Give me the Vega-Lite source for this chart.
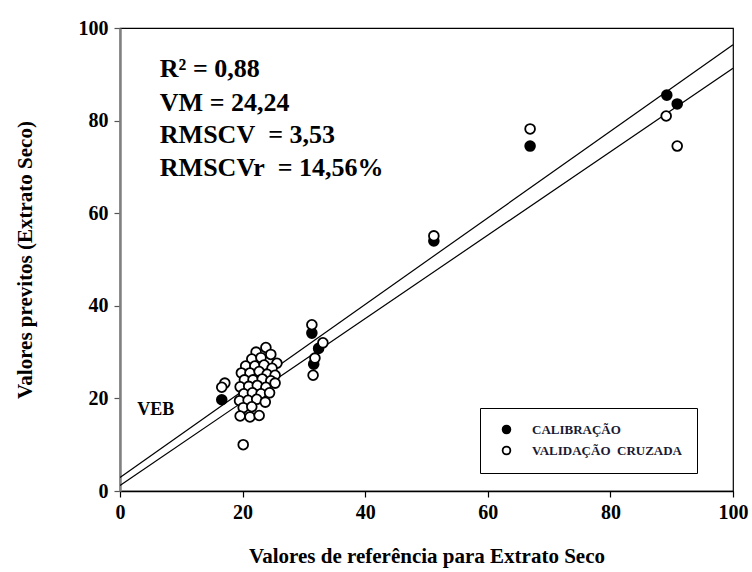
{
  "$schema": "https://vega.github.io/schema/vega-lite/v6.json",
  "width": 613,
  "height": 463,
  "autosize": "none",
  "padding": {"left": 120, "top": 28, "right": 19, "bottom": 81},
  "background": "white",
  "config": {
    "view": {"stroke": "black", "strokeWidth": 1.2},
    "font": "Liberation Serif"
  },
  "datasets": {
    "pts": [
      {"x": 16.6, "y": 19.7, "grupo": "CALIBRAÇÃO"},
      {"x": 21.5, "y": 22.0, "grupo": "CALIBRAÇÃO"},
      {"x": 22.8, "y": 24.5, "grupo": "CALIBRAÇÃO"},
      {"x": 23.5, "y": 26.0, "grupo": "CALIBRAÇÃO"},
      {"x": 20.5, "y": 18.5, "grupo": "CALIBRAÇÃO"},
      {"x": 24.5, "y": 24.0, "grupo": "CALIBRAÇÃO"},
      {"x": 22.0, "y": 20.5, "grupo": "CALIBRAÇÃO"},
      {"x": 31.3, "y": 34.1, "grupo": "CALIBRAÇÃO"},
      {"x": 32.4, "y": 30.8, "grupo": "CALIBRAÇÃO"},
      {"x": 31.6, "y": 27.4, "grupo": "CALIBRAÇÃO"},
      {"x": 51.2, "y": 54.0, "grupo": "CALIBRAÇÃO"},
      {"x": 66.9, "y": 74.5, "grupo": "CALIBRAÇÃO"},
      {"x": 89.2, "y": 85.5, "grupo": "CALIBRAÇÃO"},
      {"x": 90.9, "y": 83.6, "grupo": "CALIBRAÇÃO"},
      {"x": 23.8, "y": 31.0, "grupo": "VALIDAÇÃO\u00a0\u00a0CRUZADA"},
      {"x": 22.2, "y": 30.0, "grupo": "VALIDAÇÃO\u00a0\u00a0CRUZADA"},
      {"x": 21.5, "y": 28.5, "grupo": "VALIDAÇÃO\u00a0\u00a0CRUZADA"},
      {"x": 23.0, "y": 28.8, "grupo": "VALIDAÇÃO\u00a0\u00a0CRUZADA"},
      {"x": 24.6, "y": 29.5, "grupo": "VALIDAÇÃO\u00a0\u00a0CRUZADA"},
      {"x": 25.6, "y": 27.6, "grupo": "VALIDAÇÃO\u00a0\u00a0CRUZADA"},
      {"x": 20.5, "y": 27.0, "grupo": "VALIDAÇÃO\u00a0\u00a0CRUZADA"},
      {"x": 22.0, "y": 27.0, "grupo": "VALIDAÇÃO\u00a0\u00a0CRUZADA"},
      {"x": 23.5, "y": 27.2, "grupo": "VALIDAÇÃO\u00a0\u00a0CRUZADA"},
      {"x": 24.8, "y": 26.5, "grupo": "VALIDAÇÃO\u00a0\u00a0CRUZADA"},
      {"x": 19.8, "y": 25.5, "grupo": "VALIDAÇÃO\u00a0\u00a0CRUZADA"},
      {"x": 21.2, "y": 25.5, "grupo": "VALIDAÇÃO\u00a0\u00a0CRUZADA"},
      {"x": 22.7, "y": 25.8, "grupo": "VALIDAÇÃO\u00a0\u00a0CRUZADA"},
      {"x": 24.0, "y": 25.2, "grupo": "VALIDAÇÃO\u00a0\u00a0CRUZADA"},
      {"x": 25.3, "y": 25.0, "grupo": "VALIDAÇÃO\u00a0\u00a0CRUZADA"},
      {"x": 20.3, "y": 24.0, "grupo": "VALIDAÇÃO\u00a0\u00a0CRUZADA"},
      {"x": 21.7, "y": 24.0, "grupo": "VALIDAÇÃO\u00a0\u00a0CRUZADA"},
      {"x": 23.2, "y": 24.2, "grupo": "VALIDAÇÃO\u00a0\u00a0CRUZADA"},
      {"x": 24.6, "y": 23.8, "grupo": "VALIDAÇÃO\u00a0\u00a0CRUZADA"},
      {"x": 19.6, "y": 22.5, "grupo": "VALIDAÇÃO\u00a0\u00a0CRUZADA"},
      {"x": 21.0, "y": 22.6, "grupo": "VALIDAÇÃO\u00a0\u00a0CRUZADA"},
      {"x": 22.4, "y": 22.8, "grupo": "VALIDAÇÃO\u00a0\u00a0CRUZADA"},
      {"x": 23.8, "y": 22.4, "grupo": "VALIDAÇÃO\u00a0\u00a0CRUZADA"},
      {"x": 25.3, "y": 23.3, "grupo": "VALIDAÇÃO\u00a0\u00a0CRUZADA"},
      {"x": 20.2, "y": 21.0, "grupo": "VALIDAÇÃO\u00a0\u00a0CRUZADA"},
      {"x": 21.6, "y": 21.2, "grupo": "VALIDAÇÃO\u00a0\u00a0CRUZADA"},
      {"x": 23.0, "y": 21.0, "grupo": "VALIDAÇÃO\u00a0\u00a0CRUZADA"},
      {"x": 24.4, "y": 21.2, "grupo": "VALIDAÇÃO\u00a0\u00a0CRUZADA"},
      {"x": 19.5, "y": 19.5, "grupo": "VALIDAÇÃO\u00a0\u00a0CRUZADA"},
      {"x": 20.9, "y": 19.6, "grupo": "VALIDAÇÃO\u00a0\u00a0CRUZADA"},
      {"x": 22.3, "y": 19.8, "grupo": "VALIDAÇÃO\u00a0\u00a0CRUZADA"},
      {"x": 23.7, "y": 19.2, "grupo": "VALIDAÇÃO\u00a0\u00a0CRUZADA"},
      {"x": 20.1, "y": 18.0, "grupo": "VALIDAÇÃO\u00a0\u00a0CRUZADA"},
      {"x": 21.5, "y": 18.2, "grupo": "VALIDAÇÃO\u00a0\u00a0CRUZADA"},
      {"x": 19.6, "y": 16.2, "grupo": "VALIDAÇÃO\u00a0\u00a0CRUZADA"},
      {"x": 21.2, "y": 16.0, "grupo": "VALIDAÇÃO\u00a0\u00a0CRUZADA"},
      {"x": 22.7, "y": 16.3, "grupo": "VALIDAÇÃO\u00a0\u00a0CRUZADA"},
      {"x": 17.1, "y": 23.3, "grupo": "VALIDAÇÃO\u00a0\u00a0CRUZADA"},
      {"x": 16.6, "y": 22.4, "grupo": "VALIDAÇÃO\u00a0\u00a0CRUZADA"},
      {"x": 20.1, "y": 10.0, "grupo": "VALIDAÇÃO\u00a0\u00a0CRUZADA"},
      {"x": 31.3, "y": 35.9, "grupo": "VALIDAÇÃO\u00a0\u00a0CRUZADA"},
      {"x": 33.1, "y": 32.0, "grupo": "VALIDAÇÃO\u00a0\u00a0CRUZADA"},
      {"x": 31.8, "y": 28.7, "grupo": "VALIDAÇÃO\u00a0\u00a0CRUZADA"},
      {"x": 31.5, "y": 25.0, "grupo": "VALIDAÇÃO\u00a0\u00a0CRUZADA"},
      {"x": 51.2, "y": 55.1, "grupo": "VALIDAÇÃO\u00a0\u00a0CRUZADA"},
      {"x": 66.9, "y": 78.2, "grupo": "VALIDAÇÃO\u00a0\u00a0CRUZADA"},
      {"x": 89.1, "y": 81.0, "grupo": "VALIDAÇÃO\u00a0\u00a0CRUZADA"},
      {"x": 90.9, "y": 74.5, "grupo": "VALIDAÇÃO\u00a0\u00a0CRUZADA"}
    ],
    "linhas": [
      {"x": 0, "y": 2.9, "reta": "a"},
      {"x": 100, "y": 96.4, "reta": "a"},
      {"x": 0, "y": 1.2, "reta": "b"},
      {"x": 100, "y": 91.3, "reta": "b"}
    ],
    "textos": [
      {"x": 6.5, "y": 91.1, "t": "R² = 0,88"},
      {"x": 6.5, "y": 83.8, "t": "VM = 24,24"},
      {"x": 6.5, "y": 76.9, "t": "RMSCV\u00a0\u00a0= 3,53"},
      {"x": 6.5, "y": 69.8, "t": "RMSCVr\u00a0\u00a0= 14,56%"}
    ],
    "veb": [
      {"x": 2.8, "y": 17.5, "t": "VEB"}
    ]
  },
  "layer": [
    {
      "data": {"name": "linhas"},
      "mark": {"type": "line", "color": "black", "strokeWidth": 1.2, "clip": true},
      "encoding": {
        "x": {"field": "x", "type": "quantitative", "scale": {"domain": [0, 100], "nice": false},
          "axis": {
            "title": "Valores de referência para Extrato Seco",
            "values": [0, 20, 40, 60, 80, 100],
            "grid": false,
            "domainColor": "black", "domainWidth": 1.5,
            "tickColor": "black", "tickSize": 6, "tickWidth": 1.2,
            "labelFont": "Liberation Serif", "labelFontWeight": "bold", "labelFontSize": 20, "labelColor": "black",
            "labelPadding": 5, "labelFlush": false,
            "titleFont": "Liberation Serif", "titleFontWeight": "bold", "titleFontSize": 21, "titleColor": "black",
            "titlePadding": 23
          }},
        "y": {"field": "y", "type": "quantitative", "scale": {"domain": [0, 100], "nice": false},
          "axis": {
            "title": "Valores previtos (Extrato Seco)",
            "values": [0, 20, 40, 60, 80, 100],
            "grid": false,
            "domainColor": "#808080", "domainWidth": 2.5,
            "tickColor": "#555555", "tickSize": 6, "tickWidth": 1.2,
            "labelFont": "Liberation Serif", "labelFontWeight": "bold", "labelFontSize": 20, "labelColor": "black",
            "labelPadding": 6, "labelFlush": false,
            "titleFont": "Liberation Serif", "titleFontWeight": "bold", "titleFontSize": 21, "titleColor": "black",
            "titlePadding": 43
          }},
        "detail": {"field": "reta"}
      }
    },
    {
      "data": {"name": "pts"},
      "mark": {"type": "point", "shape": "circle", "filled": true, "size": 95, "stroke": "black", "strokeWidth": 1.8, "opacity": 1},
      "encoding": {
        "x": {"field": "x", "type": "quantitative"},
        "y": {"field": "y", "type": "quantitative"},
        "fill": {"field": "grupo", "type": "nominal",
          "scale": {"domain": ["CALIBRAÇÃO", "VALIDAÇÃO\u00a0\u00a0CRUZADA"], "range": ["black", "white"]},
          "legend": {
            "title": null,
            "orient": "none",
            "legendX": 360,
            "legendY": 380,
            "direction": "vertical",
            "strokeColor": "black",
            "fillColor": "white",
            "padding": 15,
            "rowPadding": 6,
            "symbolType": "circle",
            "symbolSize": 60,
            "symbolStrokeColor": "black",
            "symbolStrokeWidth": 1.8,
            "symbolOffset": 5,
            "labelOffset": 19,
            "labelFont": "Liberation Serif",
            "labelFontWeight": "bold",
            "labelFontSize": 13,
            "labelColor": "#1a1a33",
            "labelLimit": 300
          }}
      }
    },
    {
      "data": {"name": "textos"},
      "mark": {"type": "text", "align": "left", "baseline": "middle", "font": "Liberation Serif", "fontWeight": "bold", "fontSize": 26, "color": "black"},
      "encoding": {
        "x": {"field": "x", "type": "quantitative"},
        "y": {"field": "y", "type": "quantitative"},
        "text": {"field": "t"}
      }
    },
    {
      "data": {"name": "veb"},
      "mark": {"type": "text", "align": "left", "baseline": "middle", "font": "Liberation Serif", "fontWeight": "bold", "fontSize": 18, "color": "black"},
      "encoding": {
        "x": {"field": "x", "type": "quantitative"},
        "y": {"field": "y", "type": "quantitative"},
        "text": {"field": "t"}
      }
    }
  ]
}
